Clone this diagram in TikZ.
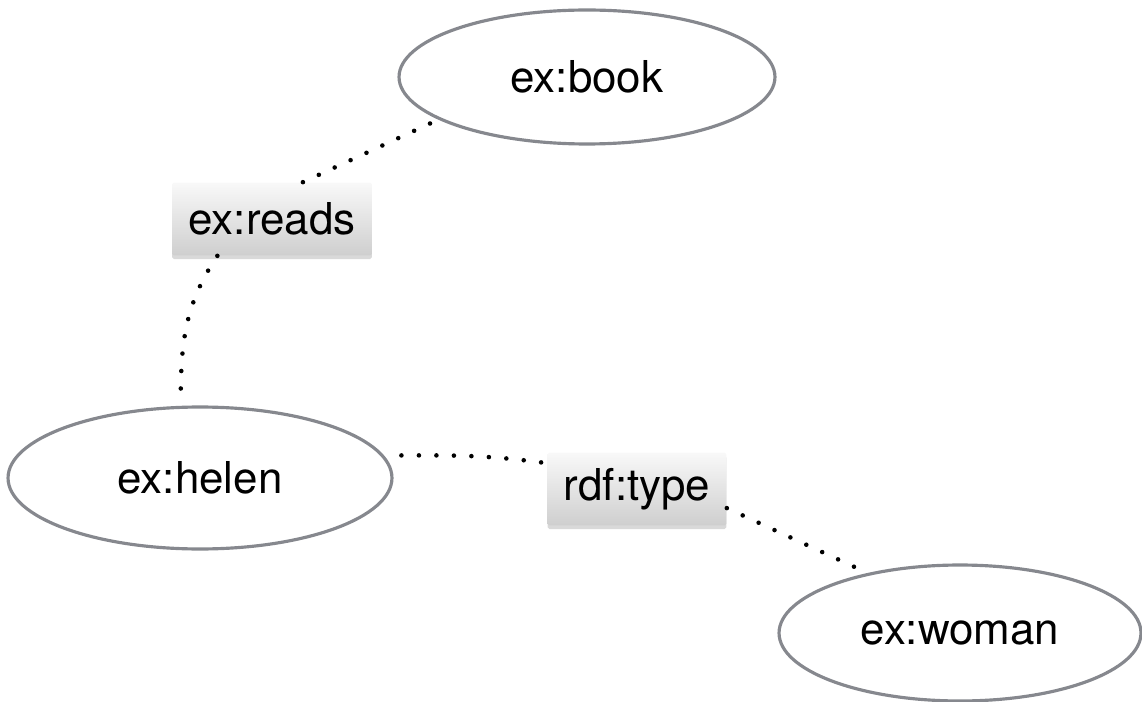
\documentclass[tikz,border=0pt]{standalone}
\usepackage{fontspec}
\setmainfont{TeX Gyre Heros}
\usetikzlibrary{positioning,shapes.geometric,shadows}
\definecolor{rimgray}{RGB}{134,136,142}
\tikzset{
	res/.style={ellipse,draw=rimgray,line width=1.8pt,inner sep=0pt,font=\fontsize{25}{29}\selectfont},
	prop/.style={rectangle,rounded corners=1pt,top color=gray!5,bottom color=gray!38,
		drop shadow={shadow xshift=0pt,shadow yshift=-2pt,opacity=0.3},
		inner sep=0pt,minimum height=1.46cm,font=\fontsize{25}{29}\selectfont},
	dotline/.style={line width=2.6pt,line cap=round,dash pattern=on 0pt off 0.35cm},
}

\begin{document}
\begin{tikzpicture}[x=0.02cm,y=-0.02cm]
	\useasboundingbox (0,0) rectangle (1142,702);
	%% resources
	\node[res,minimum width=7.52cm,minimum height=2.68cm] (book) at (587,77) {ex:book};
	\node[res,minimum width=7.68cm,minimum height=2.84cm] (helen) at (200,478) {ex:helen};
	\node[res,minimum width=7.24cm,minimum height=2.72cm] (woman) at (960,633) {ex:woman};
	%% properties
	\node[prop,minimum width=4cm] (reads) at (272,219) {ex:reads};
	\node[prop,minimum width=3.58cm] (type) at (637,489) {rdf:type};
	% dotted links
	\draw[dotline] (reads.50) -- (book.196);
	\draw[dotline] (reads.214) to[out=236,in=90] (helen.105);
	\draw[dotline,shorten <=0.35cm] (helen.7) to[out=0,in=172] (type.164);
	\draw[dotline] (type.348) -- (woman.147);
\end{tikzpicture}
\end{document}
